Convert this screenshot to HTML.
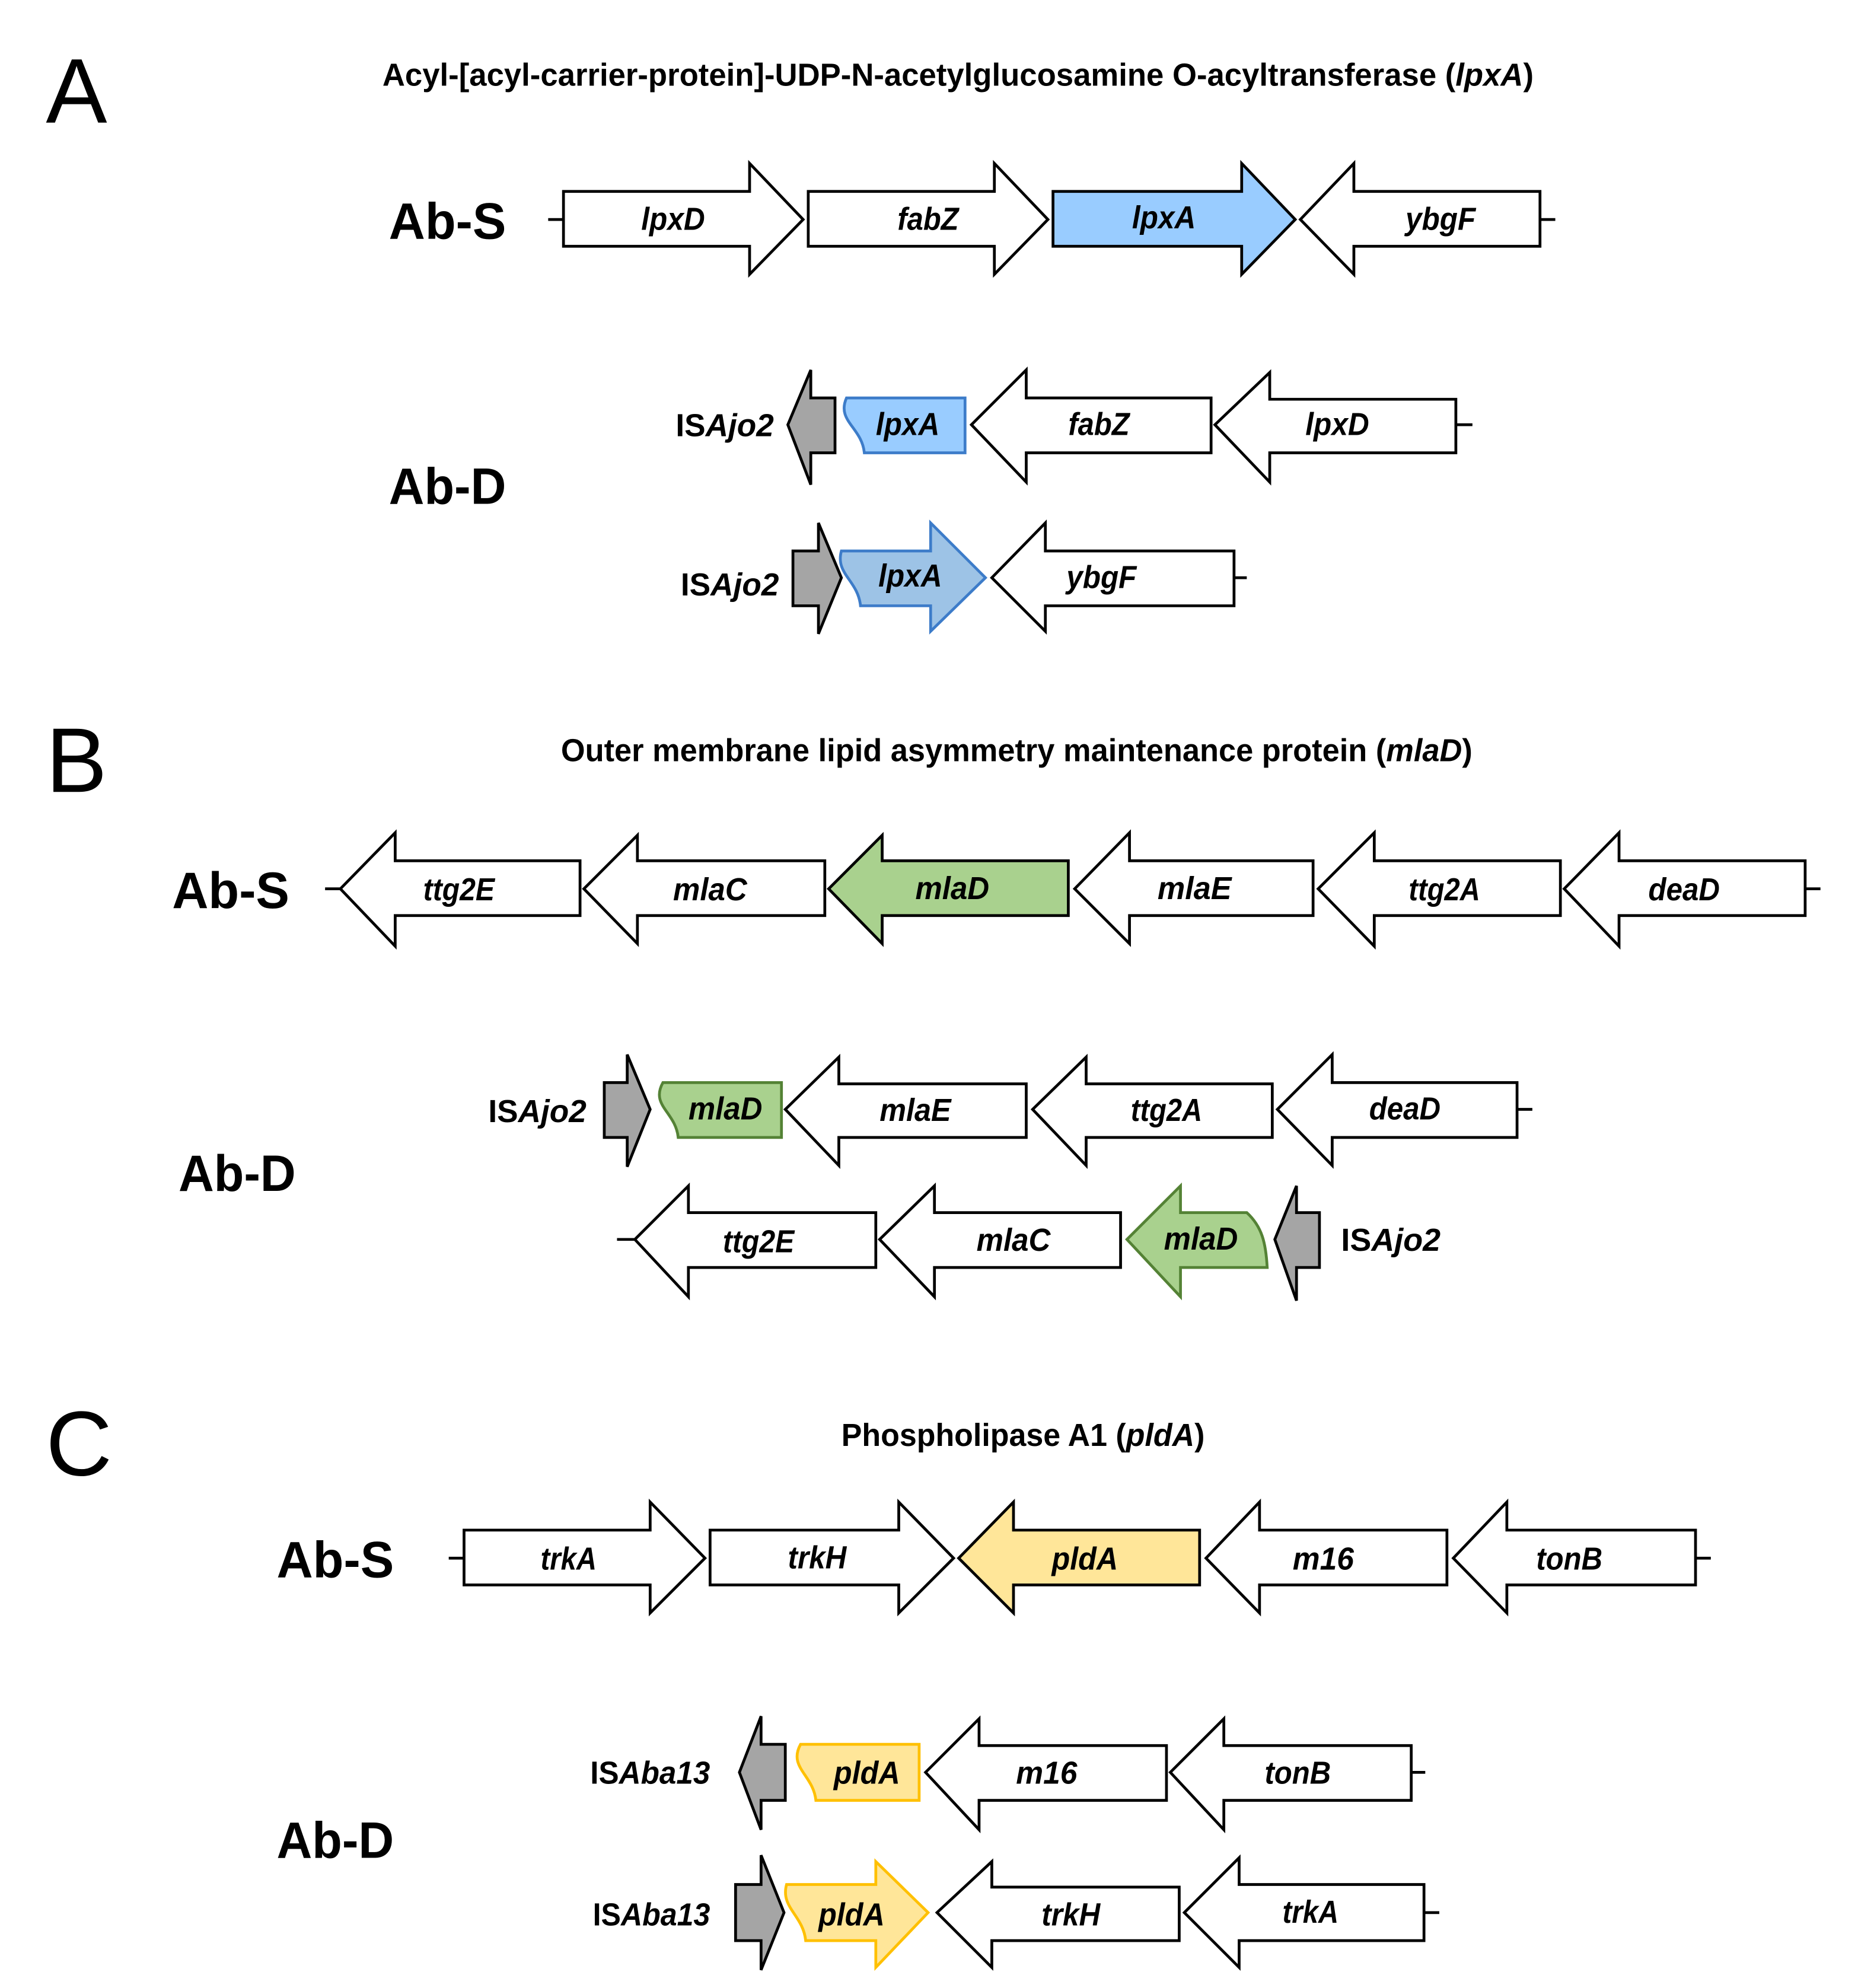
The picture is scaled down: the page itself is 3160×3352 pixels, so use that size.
<!DOCTYPE html>
<html><head><meta charset="utf-8"><style>html,body{margin:0;padding:0;background:#fff}svg{display:block}</style></head>
<body>
<svg xmlns="http://www.w3.org/2000/svg" width="3160" height="3352" viewBox="0 0 1470 1559" font-family="Liberation Sans, sans-serif">
<rect width="1470" height="1559" fill="#fff"/>
<g font-size="72" fill="#000">
<text x="36" y="96">A</text>
<text x="36" y="621">B</text>
<text x="36" y="1157">C</text>
</g>
<g font-size="25" font-weight="bold" text-anchor="start">
<text x="300" y="67" textLength="903" lengthAdjust="spacingAndGlyphs">Acyl-[acyl-carrier-protein]-UDP-N-acetylglucosamine  O-acyltransferase  (<tspan font-style="italic">lpxA</tspan>)</text>
<text x="440" y="597" textLength="715" lengthAdjust="spacingAndGlyphs">Outer membrane  lipid asymmetry  maintenance  protein (<tspan font-style="italic">mlaD</tspan>)</text>
<text x="660" y="1134" textLength="285" lengthAdjust="spacingAndGlyphs">Phospholipase  A1 (<tspan font-style="italic">pldA</tspan>)</text>
</g>
<g font-size="40" font-weight="bold">
<text x="305" y="187" textLength="92" lengthAdjust="spacingAndGlyphs">Ab-S</text>
<text x="305" y="395" textLength="92" lengthAdjust="spacingAndGlyphs">Ab-D</text>
<text x="135" y="712" textLength="92" lengthAdjust="spacingAndGlyphs">Ab-S</text>
<text x="140" y="934" textLength="92" lengthAdjust="spacingAndGlyphs">Ab-D</text>
<text x="217" y="1237" textLength="92" lengthAdjust="spacingAndGlyphs">Ab-S</text>
<text x="217" y="1457" textLength="92" lengthAdjust="spacingAndGlyphs">Ab-D</text>
</g>
<g font-size="25" font-weight="bold">
<text x="530" y="342" textLength="77" lengthAdjust="spacingAndGlyphs">IS<tspan font-style="italic">Ajo2</tspan></text>
<text x="534" y="467" textLength="77" lengthAdjust="spacingAndGlyphs">IS<tspan font-style="italic">Ajo2</tspan></text>
<text x="383" y="880" textLength="77" lengthAdjust="spacingAndGlyphs">IS<tspan font-style="italic">Ajo2</tspan></text>
<text x="1052" y="981" textLength="78" lengthAdjust="spacingAndGlyphs">IS<tspan font-style="italic">Ajo2</tspan></text>
<text x="463" y="1399" textLength="94" lengthAdjust="spacingAndGlyphs">IS<tspan font-style="italic">Aba13</tspan></text>
<text x="465" y="1510" textLength="92" lengthAdjust="spacingAndGlyphs">IS<tspan font-style="italic">Aba13</tspan></text>
</g>
<g stroke="#000" stroke-width="2.2" stroke-linejoin="miter">
<!-- A Ab-S -->
<line x1="430" y1="172" x2="442" y2="172"/><line x1="1208" y1="172" x2="1220" y2="172"/>
<path d="M442,150 L588,150 L588,128 L630,172 L588,215 L588,193 L442,193Z" fill="#fff"/>
<path d="M634,150 L780,150 L780,128 L822,172 L780,215 L780,193 L634,193Z" fill="#fff"/>
<path d="M826,150 L974,150 L974,128 L1016,172 L974,215 L974,193 L826,193Z" fill="#99ccff"/>
<path d="M1020,172 L1062,128 L1062,150 L1208,150 L1208,193 L1062,193 L1062,215Z" fill="#fff"/>
<!-- A Ab-D row1 -->
<path d="M618,333 L636,290 L636,312 L655,312 L655,355 L636,355 L636,380Z" fill="#a5a5a5"/>
<path d="M664,312 L757,312 L757,355 L678,355 C676,335 656,330 664,312Z" fill="#99ccff" stroke="#3d7cc9"/>
<path d="M762,333 L805,290 L805,312 L950,312 L950,355 L805,355 L805,378Z" fill="#fff"/>
<path d="M953,333 L996,292 L996,313 L1142,313 L1142,355 L996,355 L996,378Z" fill="#fff"/>
<line x1="1142" y1="333" x2="1155" y2="333"/>
<!-- A Ab-D row2 -->
<path d="M622,432 L642,432 L642,410 L660,453 L642,497 L642,475 L622,475Z" fill="#a5a5a5"/>
<path d="M660,432 L730,432 L730,410 L773,453 L730,495 L730,475 L675,475 C673,455 655,450 660,432Z" fill="#9dc3e6" stroke="#3d7cc9"/>
<path d="M778,453 L820,410 L820,432 L968,432 L968,475 L820,475 L820,495Z" fill="#fff"/>
<line x1="968" y1="453" x2="978" y2="453"/>
<!-- B Ab-S -->
<line x1="255" y1="697" x2="268" y2="697"/><line x1="1416" y1="697" x2="1428" y2="697"/>
<path d="M267,697 L310,653 L310,675 L455,675 L455,718 L310,718 L310,742Z" fill="#fff"/>
<path d="M458,697 L500,655 L500,675 L647,675 L647,718 L500,718 L500,740Z" fill="#fff"/>
<path d="M650,697 L692,655 L692,675 L838,675 L838,718 L692,718 L692,740Z" fill="#a9d18e"/>
<path d="M843,697 L886,653 L886,675 L1030,675 L1030,718 L886,718 L886,740Z" fill="#fff"/>
<path d="M1034,697 L1078,653 L1078,675 L1224,675 L1224,718 L1078,718 L1078,742Z" fill="#fff"/>
<path d="M1227,697 L1270,653 L1270,675 L1416,675 L1416,718 L1270,718 L1270,742Z" fill="#fff"/>
<!-- B Ab-D row1 -->
<path d="M474,849 L492,849 L492,827 L510,870 L492,915 L492,892 L474,892Z" fill="#a5a5a5"/>
<path d="M520,849 L613,849 L613,892 L532,892 C530,872 510,867 520,849Z" fill="#a9d18e" stroke="#548235"/>
<path d="M616,870 L658,829 L658,850 L805,850 L805,892 L658,892 L658,914Z" fill="#fff"/>
<path d="M810,870 L852,829 L852,850 L998,850 L998,892 L852,892 L852,914Z" fill="#fff"/>
<path d="M1002,870 L1045,827 L1045,849 L1190,849 L1190,892 L1045,892 L1045,914Z" fill="#fff"/>
<line x1="1190" y1="870" x2="1202" y2="870"/>
<!-- B Ab-D row2 -->
<line x1="484" y1="972" x2="498" y2="972"/>
<path d="M498,972 L540,930 L540,951 L687,951 L687,994 L540,994 L540,1017Z" fill="#fff"/>
<path d="M690,972 L733,930 L733,951 L879,951 L879,994 L733,994 L733,1017Z" fill="#fff"/>
<path d="M884,972 L926,930 L926,951 L978,951 C990,962 993,975 994,994 L926,994 L926,1017Z" fill="#a9d18e" stroke="#548235"/>
<path d="M1000,972 L1017,930 L1017,951 L1035,951 L1035,994 L1017,994 L1017,1020Z" fill="#a5a5a5"/>
<!-- C Ab-S -->
<line x1="352" y1="1222" x2="364" y2="1222"/><line x1="1330" y1="1222" x2="1342" y2="1222"/>
<path d="M364,1200 L510,1200 L510,1178 L553,1222 L510,1265 L510,1243 L364,1243Z" fill="#fff"/>
<path d="M557,1200 L705,1200 L705,1178 L748,1222 L705,1265 L705,1243 L557,1243Z" fill="#fff"/>
<path d="M752,1222 L795,1178 L795,1200 L941,1200 L941,1243 L795,1243 L795,1265Z" fill="#ffe699"/>
<path d="M946,1222 L988,1178 L988,1200 L1135,1200 L1135,1243 L988,1243 L988,1265Z" fill="#fff"/>
<path d="M1140,1222 L1182,1178 L1182,1200 L1330,1200 L1330,1243 L1182,1243 L1182,1265Z" fill="#fff"/>
<!-- C Ab-D row1 -->
<path d="M580,1390 L597,1346 L597,1368 L616,1368 L616,1412 L597,1412 L597,1435Z" fill="#a5a5a5"/>
<path d="M628,1368 L721,1368 L721,1412 L640,1412 C638,1392 618,1386 628,1368Z" fill="#ffe699" stroke="#ffc000"/>
<path d="M726,1390 L768,1348 L768,1369 L915,1369 L915,1412 L768,1412 L768,1435Z" fill="#fff"/>
<path d="M918,1390 L960,1348 L960,1369 L1107,1369 L1107,1412 L960,1412 L960,1435Z" fill="#fff"/>
<line x1="1107" y1="1390" x2="1118" y2="1390"/>
<!-- C Ab-D row2 -->
<path d="M577,1478 L597,1478 L597,1455 L615,1500 L597,1545 L597,1522 L577,1522Z" fill="#a5a5a5"/>
<path d="M617,1478 L687,1478 L687,1460 L728,1500 L687,1543 L687,1522 L632,1522 C630,1502 612,1496 617,1478Z" fill="#ffe699" stroke="#ffc000"/>
<path d="M735,1500 L778,1460 L778,1480 L925,1480 L925,1522 L778,1522 L778,1543Z" fill="#fff"/>
<path d="M929,1500 L972,1457 L972,1478 L1117,1478 L1117,1522 L972,1522 L972,1543Z" fill="#fff"/>
<line x1="1117" y1="1500" x2="1129" y2="1500"/>
</g>
<g font-size="25" font-weight="bold" font-style="italic" text-anchor="middle">
<text x="528" y="180" textLength="50" lengthAdjust="spacingAndGlyphs">lpxD</text>
<text x="728" y="180" textLength="48" lengthAdjust="spacingAndGlyphs">fabZ</text>
<text x="913" y="179" textLength="50" lengthAdjust="spacingAndGlyphs">lpxA</text>
<text x="1130" y="180" textLength="55" lengthAdjust="spacingAndGlyphs">ybgF</text>
<text x="712" y="341" textLength="50" lengthAdjust="spacingAndGlyphs">lpxA</text>
<text x="862" y="341" textLength="48" lengthAdjust="spacingAndGlyphs">fabZ</text>
<text x="1049" y="341" textLength="50" lengthAdjust="spacingAndGlyphs">lpxD</text>
<text x="714" y="460" textLength="50" lengthAdjust="spacingAndGlyphs">lpxA</text>
<text x="864" y="461" textLength="55" lengthAdjust="spacingAndGlyphs">ybgF</text>
<text x="360" y="706" textLength="56" lengthAdjust="spacingAndGlyphs">ttg2E</text>
<text x="557" y="706" textLength="58" lengthAdjust="spacingAndGlyphs">mlaC</text>
<text x="747" y="705" textLength="58" lengthAdjust="spacingAndGlyphs">mlaD</text>
<text x="937" y="705" textLength="58" lengthAdjust="spacingAndGlyphs">mlaE</text>
<text x="1133" y="706" textLength="56" lengthAdjust="spacingAndGlyphs">ttg2A</text>
<text x="1321" y="706" textLength="56" lengthAdjust="spacingAndGlyphs">deaD</text>
<text x="569" y="878" textLength="58" lengthAdjust="spacingAndGlyphs">mlaD</text>
<text x="718" y="879" textLength="56" lengthAdjust="spacingAndGlyphs">mlaE</text>
<text x="915" y="879" textLength="56" lengthAdjust="spacingAndGlyphs">ttg2A</text>
<text x="1102" y="878" textLength="56" lengthAdjust="spacingAndGlyphs">deaD</text>
<text x="595" y="982" textLength="56" lengthAdjust="spacingAndGlyphs">ttg2E</text>
<text x="795" y="981" textLength="58" lengthAdjust="spacingAndGlyphs">mlaC</text>
<text x="942" y="980" textLength="58" lengthAdjust="spacingAndGlyphs">mlaD</text>
<text x="446" y="1231" textLength="44" lengthAdjust="spacingAndGlyphs">trkA</text>
<text x="641" y="1230" textLength="46" lengthAdjust="spacingAndGlyphs">trkH</text>
<text x="851" y="1231" textLength="52" lengthAdjust="spacingAndGlyphs">pldA</text>
<text x="1038" y="1231" textLength="48" lengthAdjust="spacingAndGlyphs">m16</text>
<text x="1231" y="1231" textLength="52" lengthAdjust="spacingAndGlyphs">tonB</text>
<text x="680" y="1399" textLength="52" lengthAdjust="spacingAndGlyphs">pldA</text>
<text x="821" y="1399" textLength="48" lengthAdjust="spacingAndGlyphs">m16</text>
<text x="1018" y="1399" textLength="52" lengthAdjust="spacingAndGlyphs">tonB</text>
<text x="668" y="1510" textLength="52" lengthAdjust="spacingAndGlyphs">pldA</text>
<text x="840" y="1510" textLength="46" lengthAdjust="spacingAndGlyphs">trkH</text>
<text x="1028" y="1508" textLength="44" lengthAdjust="spacingAndGlyphs">trkA</text>
</g>
</svg>
</body></html>
